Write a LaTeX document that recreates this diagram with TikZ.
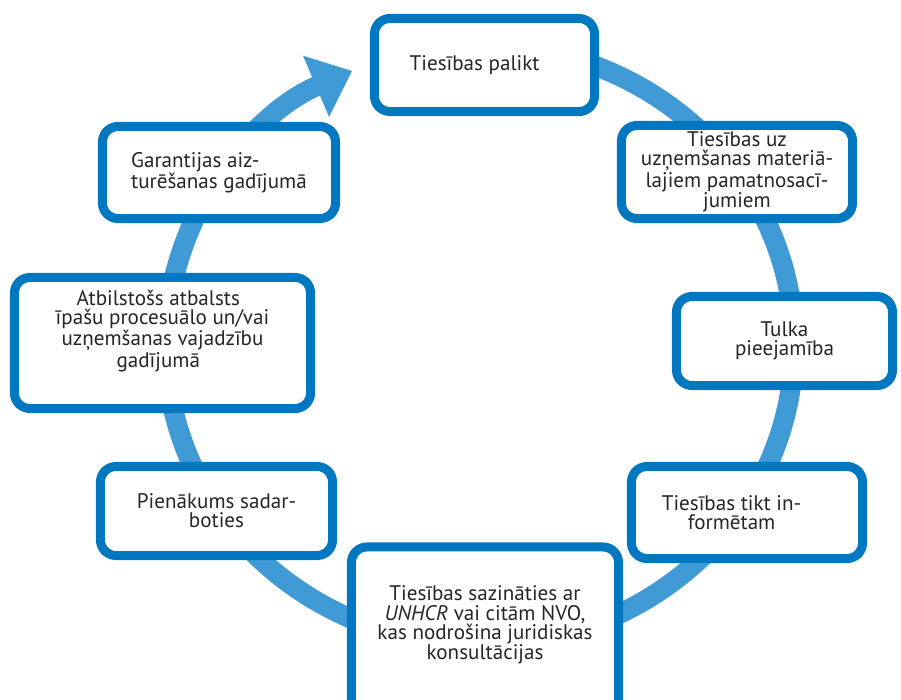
\documentclass[tikz,border=0pt]{standalone}
\usepackage{fontspec}
\setmainfont{PT Sans}
\usetikzlibrary{arrows.meta,calc}
\definecolor{boxblue}{HTML}{0078C1}
\definecolor{ringblue}{HTML}{3F9AD6}
\definecolor{txtgray}{HTML}{262626}

\begin{document}
\begin{tikzpicture}[x=0.025cm, y=0.025cm,
	box/.style={draw=boxblue, line width=6.4pt, fill=white, rounded corners=11pt, align=center, text=txtgray, inner sep=0pt, font=\fontsize{15pt}{13.6pt}\selectfont},
	ring/.style={draw=ringblue, line width=14.2pt, -{Triangle[width=45.5pt, length=28pt]}}]
				\clip (0, 0) rectangle (901, 699);
				\coordinate (O) at (480, 354);
				\draw[ring] ($(O)+(80:314 and 300)$) arc[start angle=80, end angle=-246, x radius=314, y radius=300];
				\node[box, minimum width=5.5cm, minimum height=2.325cm] (palikt)at(484.5, 634) {Tiesības palikt\hspace*{14pt}};
				\node[box, minimum width=5.775cm, minimum height=2.325cm] (materiali)at(737, 527) {Tiesības uz\\uzņemšanas materiā-\\lajiem pamatnosacī-\\jumiem};
				\node[box, minimum width=5.4cm, minimum height=2.225cm] (tulks)at(784.5, 358) {Tulka\\pieejamība};
				\node[box, minimum width=5.775cm, minimum height=2.3cm] (informets)at(747, 186.5) {Tiesības tikt in-\hspace*{22pt}\\formētam\hspace*{22pt}};
				\node[box, minimum width=6.675cm, minimum height=4.325cm, text depth=15pt] (unhcr)at(485, 65.5) {Tiesības sazināties ar\\\textit{UNHCR} vai citām NVO,\\kas nodrošina juridiskas\\konsultācijas};
				\node[box, minimum width=5.8cm, minimum height=2.225cm] (sadarboties)at(216.5, 188) {Pienākums sadar-\\boties};
				\node[box, minimum width=7.4cm, minimum height=3.275cm, text depth=20pt] (atbalsts)at(162.5, 356) {Atbilstošs atbalsts\hspace*{6pt}\\īpašu procesuālo un/vai\hspace*{6pt}\\uzņemšanas vajadzību\hspace*{6pt}\\gadījumā\hspace*{6pt}};
				\node[box, align=left, minimum width=5.825cm, minimum height=2.3cm] (aizturesana)at(219, 526.5) {Garantijas aiz-\\turēšanas gadījumā};
			\end{tikzpicture}
\end{document}
